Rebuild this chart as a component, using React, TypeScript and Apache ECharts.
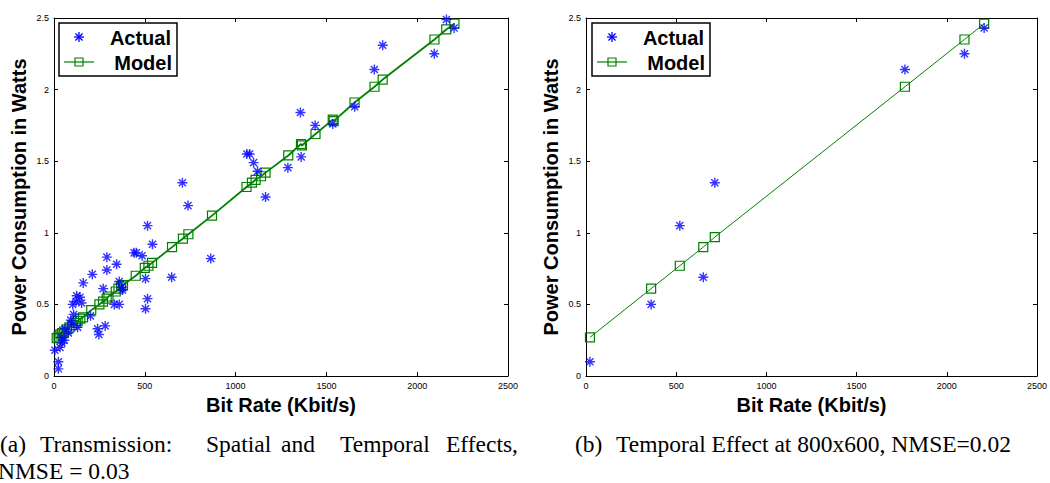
import React, { useEffect, useRef } from "react";
import * as echarts from "echarts";

// ---- data ----
const xTicks = [0, 500, 1000, 1500, 2000, 2500];
const yTicks = [0, 0.5, 1, 1.5, 2, 2.5];

const leftActual: [number, number][] = [
  [5, 0.18], [24, 0.1], [24, 0.05], [33, 0.2], [40, 0.27], [44, 0.23], [57, 0.25], [61, 0.33],
  [79, 0.3], [92, 0.39], [97, 0.36], [103, 0.5], [108, 0.43], [121, 0.52], [125, 0.56], [130, 0.34],
  [143, 0.55], [152, 0.51], [161, 0.65], [201, 0.42], [211, 0.71], [240, 0.33], [247, 0.29],
  [271, 0.61], [282, 0.35], [291, 0.83], [291, 0.74], [332, 0.5], [345, 0.78], [359, 0.66],
  [359, 0.5], [372, 0.62], [377, 0.6], [441, 0.86], [453, 0.86], [485, 0.84], [504, 0.68],
  [504, 0.47], [515, 1.05], [515, 0.54], [542, 0.92], [648, 0.69], [707, 1.35], [738, 1.19],
  [863, 0.82], [1062, 1.55], [1077, 1.55], [1099, 1.49], [1121, 1.43], [1165, 1.25],
  [1288, 1.455], [1357, 1.84], [1361, 1.53], [1438, 1.75], [1535, 1.76], [1656, 1.88],
  [1764, 2.14], [1810, 2.31], [2094, 2.25], [2161, 2.49], [2203, 2.43]
];

const leftModel: [number, number][] = [
  [15, 0.265], [25, 0.275], [35, 0.29], [45, 0.3], [55, 0.31], [70, 0.325], [85, 0.34],
  [100, 0.355], [120, 0.37], [130, 0.385], [145, 0.4], [160, 0.41], [205, 0.46], [250, 0.5],
  [270, 0.52], [290, 0.54], [300, 0.555], [340, 0.59], [355, 0.61], [370, 0.625], [380, 0.635],
  [450, 0.7], [500, 0.755], [520, 0.77], [540, 0.79], [650, 0.9], [710, 0.96], [740, 0.99],
  [870, 1.12], [1060, 1.32], [1090, 1.35], [1110, 1.37], [1140, 1.395], [1165, 1.42],
  [1290, 1.54], [1360, 1.62], [1365, 1.61], [1440, 1.69], [1535, 1.79], [1540, 1.78],
  [1655, 1.91], [1765, 2.02], [1810, 2.07], [2095, 2.35], [2160, 2.42], [2205, 2.46]
];

const rightActual: [number, number][] = [
  [22, 0.1], [361, 0.5], [520, 1.05], [650, 0.69], [714, 1.35], [1768, 2.14], [2098, 2.25], [2207, 2.43]
];

const rightModel: [number, number][] = [
  [22, 0.27], [361, 0.61], [520, 0.77], [650, 0.9], [714, 0.97], [1768, 2.02], [2098, 2.35], [2207, 2.46]
];

const legendNames = ["Actual", "Model"];
const xTitle = "Bit Rate (Kbit/s)";
const yTitle = "Power Consumption in Watts";

// ---- styling ----
const BLUE = "#0000ff";
const GREEN = "#008000";
const STAR = "path://M5,0L5,10M0,5L10,5M1.46,1.46L8.54,8.54M8.54,1.46L1.46,8.54";
const SANS = "Liberation Sans, Arial, Helvetica, sans-serif";
const SERIF = "Liberation Serif, Times New Roman, serif";

const xMin = xTicks[0], xMax = xTicks[xTicks.length - 1], xStep = xTicks[1] - xTicks[0];
const yMin = yTicks[0], yMax = yTicks[yTicks.length - 1], yStep = yTicks[1] - yTicks[0];

const plain = (v: number) => String(v);

function xAxis(grid: number, position: "bottom" | "top") {
  const main = position === "bottom";
  return {
    type: "value", gridIndex: grid, position, min: xMin, max: xMax, interval: xStep,
    name: main ? xTitle : "", nameLocation: "middle", nameGap: 16,
    nameTextStyle: { fontFamily: SANS, fontWeight: "bold", fontSize: 20, color: "#000" },
    axisLine: { show: true, onZero: false, lineStyle: { color: "#000", width: 1 } },
    axisTick: { show: true, inside: true, length: 4, lineStyle: { color: "#000" } },
    axisLabel: { show: main, fontFamily: SANS, fontSize: 9, color: "#000", margin: 5, formatter: plain },
    splitLine: { show: false },
  };
}

function yAxis(grid: number, position: "left" | "right") {
  const main = position === "left";
  return {
    type: "value", gridIndex: grid, position, min: yMin, max: yMax, interval: yStep,
    name: main ? yTitle : "", nameLocation: "middle", nameGap: 25,
    nameTextStyle: { fontFamily: SANS, fontWeight: "bold", fontSize: 20, color: "#000" },
    axisLine: { show: true, onZero: false, lineStyle: { color: "#000", width: 1 } },
    axisTick: { show: true, inside: true, length: 4, lineStyle: { color: "#000" } },
    axisLabel: { show: main, fontFamily: SANS, fontSize: 9, color: "#000", margin: 5, formatter: plain },
    splitLine: { show: false },
  };
}

function starGroup(cx: number, cy: number) {
  const r = 5;
  const d = r * 0.7071;
  const seg = (x1: number, y1: number, x2: number, y2: number) => ({
    type: "line",
    shape: { x1: cx + x1, y1: cy + y1, x2: cx + x2, y2: cy + y2 },
    style: { stroke: BLUE, lineWidth: 1.3 },
  });
  return {
    type: "group",
    children: [seg(0, -r, 0, r), seg(-r, 0, r, 0), seg(-d, -d, d, d), seg(d, -d, -d, d)],
  };
}

function legend(dx: number) {
  return {
    type: "group",
    z: 100,
    children: [
      { type: "rect", shape: { x: 59 + dx, y: 23, width: 118, height: 53 }, style: { fill: "#fff", stroke: "#000", lineWidth: 1.5 } },
      starGroup(79 + dx, 37),
      { type: "text", x: 171 + dx, y: 38, style: { text: legendNames[0], fontFamily: SANS, fontWeight: "bold", fontSize: 20, fill: "#000", align: "right", verticalAlign: "middle" } },
      { type: "line", shape: { x1: 64 + dx, y1: 62, x2: 94 + dx, y2: 62 }, style: { stroke: GREEN, lineWidth: 1.2 } },
      { type: "rect", shape: { x: 75 + dx, y: 58, width: 8, height: 8 }, style: { fill: "transparent", stroke: GREEN, lineWidth: 1.2 } },
      { type: "text", x: 172 + dx, y: 63, style: { text: legendNames[1], fontFamily: SANS, fontWeight: "bold", fontSize: 20, fill: "#000", align: "right", verticalAlign: "middle" } },
    ],
  };
}

function capText(text: string, x: number, y: number) {
  return {
    type: "text", x, y, z: 100,
    style: { text, fontFamily: SERIF, fontSize: 23.5, fill: "#000", align: "left", verticalAlign: "middle" },
  };
}

export default function App() {
  const ref = useRef<HTMLDivElement>(null);
  useEffect(() => {
    if (!ref.current) return;
    const chart = echarts.init(ref.current, undefined, { renderer: "svg" });
    const scatterStyle = {
      type: "scatter", symbol: STAR, symbolSize: 10, z: 4,
      itemStyle: { color: "rgba(0,0,0,0)", borderColor: BLUE, borderWidth: 1.4 },
    };
    chart.setOption({
      animation: false,
      backgroundColor: "#fff",
      grid: [
        { left: 54, right: 542, top: 18, bottom: 107, show: false },
        { left: 586, right: 9, top: 18, bottom: 107, show: false },
      ],
      xAxis: [xAxis(0, "bottom"), xAxis(0, "top"), xAxis(1, "bottom"), xAxis(1, "top")],
      yAxis: [yAxis(0, "left"), yAxis(0, "right"), yAxis(1, "left"), yAxis(1, "right")],
      series: [
        {
          name: legendNames[1], type: "line", xAxisIndex: 0, yAxisIndex: 0, data: leftModel,
          symbol: "rect", symbolSize: 9, showSymbol: true, z: 3,
          lineStyle: { color: GREEN, width: 1.8 },
          itemStyle: { color: "rgba(0,0,0,0)", borderColor: GREEN, borderWidth: 1.2 },
        },
        { ...scatterStyle, name: legendNames[0], xAxisIndex: 0, yAxisIndex: 0, data: leftActual },
        {
          name: legendNames[1], type: "line", xAxisIndex: 2, yAxisIndex: 2, data: rightModel,
          symbol: "rect", symbolSize: 9, showSymbol: true, z: 3,
          lineStyle: { color: GREEN, width: 1 },
          itemStyle: { color: "rgba(0,0,0,0)", borderColor: GREEN, borderWidth: 1.2 },
        },
        { ...scatterStyle, name: legendNames[0], xAxisIndex: 2, yAxisIndex: 2, data: rightActual },
      ],
      graphic: [
        legend(0),
        legend(533),
        capText("(a)", 0, 444),
        capText("Transmission:", 40, 444),
        capText("Spatial", 206, 444),
        capText("and", 281, 444),
        capText("Temporal", 340, 444),
        capText("Effects,", 446, 444),
        capText("NMSE = 0.03", -2, 471),
        capText("(b)", 575, 444),
        capText("Temporal Effect at 800x600, NMSE=0.02", 616, 444),
      ],
    });
    return () => chart.dispose();
  }, []);
  return (
    <div
      ref={ref}
      style={{ position: "fixed", left: 0, top: 0, width: 1050, height: 483, background: "#fff" }}
    />
  );
}
